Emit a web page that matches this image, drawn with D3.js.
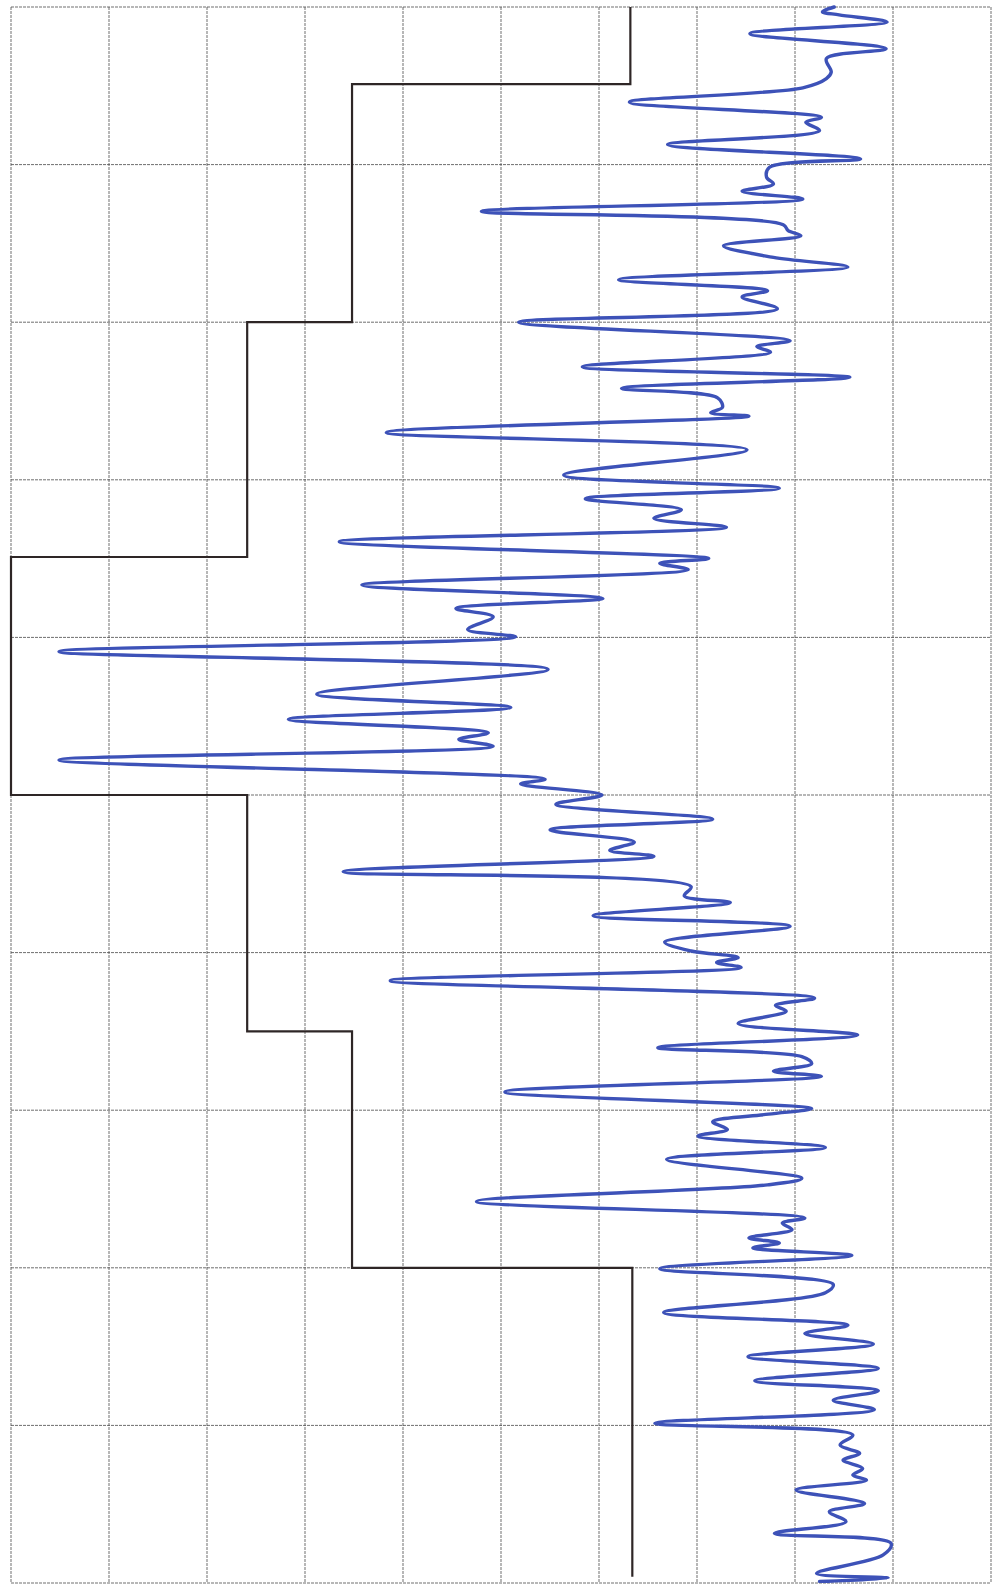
<!DOCTYPE html>
<html>
<head>
<meta charset="utf-8">
<script src="https://cdnjs.cloudflare.com/ajax/libs/d3/7.8.5/d3.min.js"></script>
<style>
  html, body { margin: 0; padding: 0; background: #fff; }
  svg { display: block; }
</style>
</head>
<body>
<svg></svg>
<script>
// grid ticks (chart divisions)
var valueTicks = [0, 10, 20, 30, 40, 50, 60, 70, 80, 90, 100];
var depthTicks = [0, 1, 2, 3, 4, 5, 6, 7, 8, 9, 10];

// black step trace
var stepDepth = [0, 0.49, 0.49, 2.0, 2.0, 3.49, 3.49, 5.0, 5.0, 6.5, 6.5, 8.0, 8.0, 9.96];
var stepValue = [63.2, 63.2, 34.8, 34.8, 24.1, 24.1, 0, 0, 24.1, 24.1, 34.8, 34.8, 63.4, 63.4];

// blue recorder trace
var traceDepth = [
    0.00, 0.03, 0.05, 0.095, 0.169, 0.265, 0.328, 0.413, 0.455, 0.513,
    0.604, 0.70, 0.731, 0.784, 0.873, 0.964, 1.017, 1.08, 1.123, 1.169,
    1.218, 1.297, 1.381, 1.419, 1.451, 1.515, 1.589, 1.650,
    1.73, 1.80, 1.84, 1.915, 2.0, 2.117, 2.155, 2.19, 2.283, 2.35,
    2.42, 2.48, 2.54, 2.574, 2.596, 2.70, 2.81, 2.97, 3.053, 3.12,
    3.19, 3.245, 3.30,
    3.393, 3.499, 3.53, 3.57, 3.668, 3.753, 3.816, 3.869, 3.95, 3.996,
    4.09, 4.203, 4.36, 4.444, 4.52, 4.605, 4.647, 4.69, 4.778, 4.90,
    4.93, 5.0,
    5.059, 5.153, 5.222, 5.299, 5.351, 5.389, 5.487, 5.582, 5.64, 5.682,
    5.766, 5.833, 5.933, 5.99, 6.031, 6.063, 6.094, 6.178, 6.289, 6.335,
    6.372, 6.45, 6.523, 6.603, 6.66,
    6.705, 6.752, 6.785, 6.884, 6.99, 7.025, 7.074, 7.122, 7.164, 7.236,
    7.312, 7.432, 7.474, 7.579, 7.684, 7.716, 7.758, 7.81, 7.842, 7.874,
    7.922, 8.006, 8.105, 8.158, 8.284, 8.364,
    8.417, 8.484, 8.564, 8.638, 8.717, 8.78, 8.84, 8.90, 8.987, 9.061,
    9.125, 9.178, 9.22, 9.273, 9.315, 9.347, 9.41, 9.495, 9.548, 9.611,
    9.685, 9.748, 9.822, 9.939, 9.968, 9.99
];
var traceValue = [
    84.0, 82.8, 84.5, 89.4, 75.4, 89.3, 83.2, 83.7, 83.2, 80.8,
    63.1, 82.7, 81.1, 82.5, 67.0, 86.7, 77.4, 77.1, 77.8, 74.6,
    80.8, 48.0, 78.8, 79.3, 80.6, 72.7, 77.8, 85.4,
    62.0, 77.2, 74.6, 78.2, 51.8, 79.5, 76.1, 77.5, 58.3, 85.6,
    62.3, 72.1, 72.6, 71.4, 75.3, 38.3, 75.1, 56.4, 78.4, 58.6,
    68.4, 65.6, 73.0,
    33.5, 71.2, 66.2, 69.1, 35.8, 60.4, 45.4, 49.2, 46.6, 51.5,
    4.9, 54.8, 31.2, 51.0, 28.3, 48.7, 45.7, 49.2, 4.9, 54.5,
    52.0, 60.3,
    55.6, 71.6, 55.0, 63.6, 61.1, 65.6, 33.9, 69.4, 68.7, 73.4,
    59.4, 79.5, 66.7, 69.4, 74.2, 72.0, 74.5, 38.7, 82.0, 78.0,
    79.1, 74.2, 86.4, 66.0, 80.7,
    81.7, 77.8, 82.7, 50.4, 81.7, 77.3, 71.6, 73.1, 70.1, 83.1,
    66.9, 80.7, 77.2, 47.5, 81.0, 78.7, 79.7, 75.3, 78.4, 75.7,
    85.8, 66.2, 83.9, 83.1, 66.6, 85.4,
    81.0, 88.0, 75.2, 88.5, 75.9, 88.5, 83.9, 88.1, 65.7, 85.9,
    84.6, 86.6, 84.9, 86.9, 85.9, 87.3, 80.1, 87.1, 83.5, 85.2,
    77.9, 89.8, 89.0, 82.2, 89.5, 82.5
];

var svgWidth = 997, svgHeight = 1585;
var plotLeft = 11, plotRight = 991, plotTop = 7, plotBottom = 1583;

var svg = d3.select('svg')
    .attr('width', svgWidth)
    .attr('height', svgHeight)
    .style('background-color', 'white');

var x = d3.scaleLinear().domain([0, 100]).range([plotLeft, plotRight]);
var y = d3.scaleLinear().domain([0, 10]).range([plotTop, plotBottom]);

// grid
svg.append('g')
    .selectAll('line')
    .data(valueTicks)
    .enter()
    .append('line')
    .attr('x1', function(d) { return x(d); })
    .attr('x2', function(d) { return x(d); })
    .attr('y1', y(0))
    .attr('y2', y(10))
    .attr('stroke', '#4a4a4a')
    .attr('stroke-width', 1)
    .attr('stroke-dasharray', '3,1')
    .attr('opacity', 0.8);

svg.append('g')
    .selectAll('line')
    .data(depthTicks)
    .enter()
    .append('line')
    .attr('y1', function(d) { return y(d); })
    .attr('y2', function(d) { return y(d); })
    .attr('x1', x(0))
    .attr('x2', x(100))
    .attr('stroke', '#4a4a4a')
    .attr('stroke-width', 1)
    .attr('stroke-dasharray', '3,1')
    .attr('opacity', 0.8);

// black step line
var stepLine = d3.line()
    .x(function(d, i) { return x(stepValue[i]); })
    .y(function(d, i) { return y(stepDepth[i]); });

svg.append('path')
    .attr('d', stepLine(stepDepth))
    .attr('fill', 'none')
    .attr('stroke', '#2e2626')
    .attr('stroke-width', 2.2);

// blue trace
var traceLine = d3.line()
    .curve(d3.curveCatmullRom.alpha(0.5))
    .x(function(d, i) { return x(traceValue[i]); })
    .y(function(d, i) { return y(traceDepth[i]); });

svg.append('path')
    .attr('d', traceLine(traceDepth))
    .attr('fill', 'none')
    .attr('stroke', '#3d52b8')
    .attr('stroke-width', 3.4)
    .attr('stroke-linejoin', 'round')
    .attr('stroke-linecap', 'round');
</script>
</body>
</html>
